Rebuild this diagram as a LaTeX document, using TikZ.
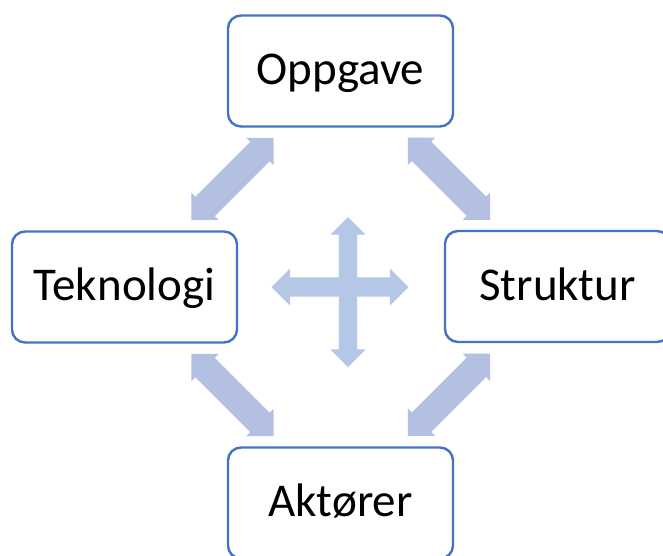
\documentclass[tikz,border=0pt]{standalone}
\usepackage{fontspec}
\setmainfont{Carlito}
\usetikzlibrary{shapes.arrows,calc}
\definecolor{boxline}{RGB}{68,114,196}
\definecolor{linkfill}{RGB}{180,192,226}
\definecolor{crossfill}{RGB}{180,199,231}
\tikzset{
  termbox/.style={draw=boxline, line width=2.4pt, rounded corners=13pt, fill=white,
    minimum width=225pt, minimum height=111pt, inner sep=0pt,
    text height=27pt, text depth=0pt, font=\fontsize{47}{51}\selectfont},
  % the shaft width of an empty arrow node is twice its inner ysep
  linkarrow/.style={double arrow, fill=linkfill, draw=none, inner xsep=0pt,
    inner ysep=13.5pt, minimum height=116pt, minimum width=38pt,
    double arrow head extend=5.5pt},
  crossarrow/.style={double arrow, fill=crossfill, draw=none, inner xsep=0pt}
}
\begin{document}
\begin{tikzpicture}[x=1pt, y=-1pt]
\clip (0,0) rectangle (663,555);
\fill[white] (0,0) rectangle (663,555);

% the four concept boxes
\node[termbox] (opp) at (340.5,71)  {Oppgave};
\node[termbox] (tek) at (124.5,287) {Teknologi};
\node[termbox] (str) at (557.5,286.5) {Struktur};
\node[termbox] (akt) at (340.5,503) {Aktører};

% two-way links between neighbouring boxes
\node[linkarrow, rotate=45]  (lTL) at ($(opp.south west)!0.5!(tek.north east)$) {};
\node[linkarrow, rotate=-45] (lTR) at ($(opp.south east)!0.5!(str.north west)$) {};
\node[linkarrow, rotate=-45] (lBL) at ($(tek.south east)!0.5!(akt.north west)$) {};
\node[linkarrow, rotate=45]  (lBR) at ($(str.south west)!0.5!(akt.north east)$) {};

% four-way cross in the middle
\node[crossarrow, inner ysep=9.5pt, minimum height=137pt, minimum width=37pt,
      double arrow head extend=9pt] (crossH) at (340,287) {};
\node[crossarrow, inner ysep=9pt, minimum height=150pt, minimum width=35pt,
      double arrow head extend=8.5pt, rotate=90] (crossV) at (348,292) {};
\end{tikzpicture}
\end{document}
